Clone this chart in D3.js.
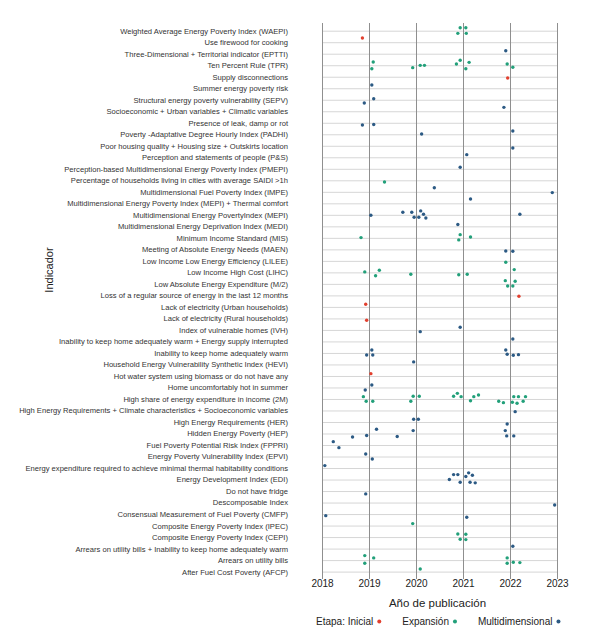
<!DOCTYPE html>
<html>
<head>
<meta charset="utf-8">
<script src="https://cdn.jsdelivr.net/npm/d3@7"></script>
<style>
  html, body { margin: 0; padding: 0; background: #ffffff; }
  svg { display: block; font-family: "Liberation Sans", Arial, sans-serif; }
</style>
</head>
<body>
<svg id="chart" width="602" height="635"></svg>
<script>
// ---------------- DATA ----------------
const categories = [
  "Weighted Average Energy Poverty Index (WAEPI)",
  "Use firewood for cooking",
  "Three-Dimensional + Territorial indicator (EPTTI)",
  "Ten Percent Rule (TPR)",
  "Supply disconnections",
  "Summer energy poverty risk",
  "Structural energy poverty vulnerability (SEPV)",
  "Socioeconomic + Urban variables + Climatic variables",
  "Presence of leak, damp or rot",
  "Poverty -Adaptative Degree Hourly Index (PADHI)",
  "Poor housing quality + Housing size + Outskirts location",
  "Perception and statements of people (P&S)",
  "Perception-based Multidimensional Energy Poverty Index (PMEPI)",
  "Percentage of households living in cities with average SAIDI >1h",
  "Multidimensional Fuel Poverty Index (IMPE)",
  "Multidimensional Energy Poverty Index (MEPI) + Thermal comfort",
  "Multidimensional Energy PovertyIndex (MEPI)",
  "Multidimensional Energy Deprivation Index (MEDI)",
  "Minimum Income Standard (MIS)",
  "Meeting of Absolute Energy Needs (MAEN)",
  "Low Income Low Energy Efficiency (LILEE)",
  "Low Income High Cost (LIHC)",
  "Low Absolute Energy Expenditure (M/2)",
  "Loss of a regular source of energy in the last 12 months",
  "Lack of electricity (Urban households)",
  "Lack of electricity (Rural households)",
  "Index of vulnerable homes (IVH)",
  "Inability to keep home adequately warm + Energy supply interrupted",
  "Inability to keep home adequately warm",
  "Household Energy Vulnerability Synthetic Index (HEVI)",
  "Hot water system using biomass or do not have any",
  "Home uncomfortably hot in summer",
  "High share of energy expenditure in income (2M)",
  "High Energy Requirements + Climate characteristics + Socioeconomic variables",
  "High Energy Requirements (HER)",
  "Hidden Energy Poverty (HEP)",
  "Fuel Poverty Potential Risk Index (FPPRI)",
  "Energy Poverty Vulnerability Index (EPVI)",
  "Energy expenditure required to achieve minimal thermal habitability conditions",
  "Energy Development Index (EDI)",
  "Do not have fridge",
  "Descomposable Index",
  "Consensual Measurement of Fuel Poverty (CMFP)",
  "Composite Energy Poverty Index (IPEC)",
  "Composite Energy Poverty Index (CEPI)",
  "Arrears on utility bills + Inability to keep home adequately warm",
  "Arrears on utility bills",
  "After Fuel Cost Poverty (AFCP)"
];

const stages = ["Inicial", "Expansión", "Multidimensional"];
const legendTitle = "Etapa:";
const yearTicks = [2018, 2019, 2020, 2021, 2022, 2023];

// Each observation: [category index, stage, publication year (jittered), vertical jitter in rows]
const observations = [
  [0, "Expansión", 2020.94, -0.26], [0, "Expansión", 2021.06, -0.26], [0, "Expansión", 2020.89, 0.23], [0, "Expansión", 2021.07, 0.23],
  [1, "Inicial", 2018.86, -0.37],
  [2, "Multidimensional", 2021.91, -0.26],
  [3, "Expansión", 2019.09, -0.28], [3, "Expansión", 2019.06, 0.30], [3, "Expansión", 2019.93, 0.21], [3, "Expansión", 2020.09, 0.01],
  [3, "Expansión", 2020.18, 0.01], [3, "Expansión", 2020.86, -0.11], [3, "Expansión", 2020.94, -0.43], [3, "Expansión", 2021.13, -0.25],
  [3, "Expansión", 2021.06, 0.30], [3, "Expansión", 2021.94, -0.11], [3, "Expansión", 2022.06, 0.18],
  [4, "Inicial", 2021.95, 0.11],
  [5, "Multidimensional", 2019.06, -0.28],
  [6, "Multidimensional", 2019.10, -0.09], [6, "Multidimensional", 2018.90, 0.28],
  [7, "Multidimensional", 2021.87, -0.34],
  [8, "Multidimensional", 2018.86, 0.19], [8, "Multidimensional", 2019.10, 0.15],
  [9, "Multidimensional", 2020.12, -0.03], [9, "Multidimensional", 2022.06, -0.28],
  [10, "Multidimensional", 2022.06, 0.19],
  [11, "Multidimensional", 2021.08, -0.23],
  [12, "Multidimensional", 2020.94, -0.13],
  [13, "Expansión", 2019.33, 0.15],
  [14, "Multidimensional", 2020.39, -0.36], [14, "Multidimensional", 2022.90, 0.07],
  [15, "Multidimensional", 2021.16, -0.38],
  [16, "Multidimensional", 2019.04, 0.04], [16, "Multidimensional", 2019.72, -0.22], [16, "Multidimensional", 2019.91, -0.22],
  [16, "Multidimensional", 2020.10, -0.34], [16, "Multidimensional", 2020.16, -0.05], [16, "Multidimensional", 2019.96, 0.21],
  [16, "Multidimensional", 2020.06, 0.21], [16, "Multidimensional", 2020.21, 0.27], [16, "Multidimensional", 2022.21, -0.05],
  [17, "Multidimensional", 2020.89, -0.16],
  [18, "Expansión", 2018.83, -0.02], [18, "Expansión", 2020.94, -0.28], [18, "Expansión", 2020.91, 0.18], [18, "Expansión", 2021.16, -0.08],
  [19, "Multidimensional", 2021.91, 0.14], [19, "Multidimensional", 2022.06, 0.17],
  [20, "Expansión", 2021.91, 0.12],
  [21, "Expansión", 2018.91, -0.04], [21, "Expansión", 2019.22, -0.18], [21, "Expansión", 2019.14, 0.29], [21, "Expansión", 2019.89, 0.16],
  [21, "Expansión", 2020.91, 0.20], [21, "Expansión", 2021.09, 0.16], [21, "Expansión", 2022.09, -0.24],
  [22, "Expansión", 2021.90, -0.28], [22, "Expansión", 2022.11, -0.23], [22, "Expansión", 2021.95, 0.18], [22, "Expansión", 2022.06, 0.18],
  [23, "Inicial", 2022.19, 0.08],
  [24, "Inicial", 2018.93, -0.23],
  [25, "Inicial", 2018.95, 0.16],
  [26, "Multidimensional", 2020.94, -0.23], [26, "Multidimensional", 2020.09, 0.15],
  [27, "Multidimensional", 2022.06, -0.21],
  [28, "Multidimensional", 2019.06, -0.26], [28, "Multidimensional", 2018.95, 0.18], [28, "Multidimensional", 2019.08, 0.18],
  [28, "Multidimensional", 2021.91, -0.26], [28, "Multidimensional", 2021.94, 0.11], [28, "Multidimensional", 2022.07, 0.20],
  [28, "Multidimensional", 2022.18, 0.15],
  [29, "Multidimensional", 2019.95, -0.22],
  [30, "Inicial", 2019.04, -0.20],
  [31, "Multidimensional", 2019.06, -0.22], [31, "Multidimensional", 2018.92, 0.22],
  [32, "Expansión", 2018.88, -0.20], [32, "Expansión", 2018.94, 0.20], [32, "Expansión", 2019.08, 0.20], [32, "Expansión", 2019.89, 0.20],
  [32, "Expansión", 2019.94, -0.24], [32, "Expansión", 2020.07, -0.24], [32, "Expansión", 2020.80, -0.24], [32, "Expansión", 2020.88, -0.49],
  [32, "Expansión", 2020.96, -0.20], [32, "Expansión", 2021.16, 0.15], [32, "Expansión", 2021.23, -0.20], [32, "Expansión", 2021.33, -0.35],
  [32, "Expansión", 2021.76, 0.20], [32, "Expansión", 2021.86, 0.32], [32, "Expansión", 2022.05, 0.28], [32, "Expansión", 2022.08, -0.20],
  [32, "Expansión", 2022.18, -0.20], [32, "Expansión", 2022.15, 0.37], [32, "Expansión", 2022.28, 0.20], [32, "Expansión", 2022.33, -0.20],
  [33, "Multidimensional", 2022.11, 0.10],
  [34, "Multidimensional", 2019.95, -0.24], [34, "Multidimensional", 2020.05, -0.24], [34, "Multidimensional", 2021.94, 0.17],
  [35, "Multidimensional", 2019.16, -0.37], [35, "Multidimensional", 2018.65, 0.30], [35, "Multidimensional", 2018.95, 0.17],
  [35, "Multidimensional", 2019.60, 0.26], [35, "Multidimensional", 2019.94, -0.25], [35, "Multidimensional", 2021.90, -0.25],
  [35, "Multidimensional", 2021.93, 0.21], [35, "Multidimensional", 2022.08, 0.21],
  [36, "Multidimensional", 2018.24, -0.29], [36, "Multidimensional", 2018.36, 0.23],
  [37, "Multidimensional", 2018.93, -0.22], [37, "Multidimensional", 2019.07, 0.21],
  [38, "Multidimensional", 2018.06, -0.21],
  [39, "Multidimensional", 2020.71, 0.00], [39, "Multidimensional", 2020.80, -0.43], [39, "Multidimensional", 2020.89, -0.43],
  [39, "Multidimensional", 2020.94, 0.23], [39, "Multidimensional", 2021.06, -0.26], [39, "Multidimensional", 2021.12, -0.58],
  [39, "Multidimensional", 2021.20, -0.37], [39, "Multidimensional", 2021.15, 0.23], [39, "Multidimensional", 2021.26, 0.29],
  [40, "Multidimensional", 2018.93, 0.25],
  [41, "Multidimensional", 2022.95, 0.21],
  [42, "Multidimensional", 2018.08, 0.14], [42, "Multidimensional", 2021.08, 0.28],
  [43, "Expansión", 2019.93, -0.17],
  [44, "Expansión", 2020.89, -0.27], [44, "Expansión", 2021.06, -0.25], [44, "Expansión", 2020.94, 0.19], [44, "Expansión", 2021.06, 0.22],
  [45, "Multidimensional", 2022.06, -0.20],
  [46, "Expansión", 2018.91, -0.39], [46, "Expansión", 2019.10, -0.19], [46, "Expansión", 2018.91, 0.27],
  [46, "Expansión", 2021.94, -0.19], [46, "Expansión", 2021.94, 0.27], [46, "Expansión", 2022.07, 0.19], [46, "Expansión", 2022.21, 0.22],
  [47, "Expansión", 2020.09, -0.23]
];

// ---------------- DRAWING ----------------
const svg = d3.select("#chart");
const font = '"Liberation Sans", Arial, sans-serif';

const panel = { left: 322, right: 557, top: 23, bottom: 576 };

const x = d3.scaleLinear().domain([2018, 2023]).range([panel.left, panel.right]);
const y = d3.scalePoint().domain(categories).range([30.7, 571.6]);
const color = d3.scaleOrdinal().domain(stages).range(["#e2402f", "#22a07a", "#2c5a84"]);

// horizontal gridlines
svg.append("g")
  .attr("transform", `translate(${panel.left},0)`)
  .call(d3.axisLeft(y).tickSize(-(panel.right - panel.left)).tickFormat(""))
  .call(g => g.select(".domain").remove())
  .call(g => g.selectAll("line").attr("stroke", "#d6d6d6").attr("stroke-width", 1));

// vertical gridlines
svg.append("g")
  .attr("transform", `translate(0,${panel.bottom})`)
  .call(d3.axisBottom(x).tickValues(yearTicks).tickSize(-(panel.bottom - panel.top)).tickFormat(""))
  .call(g => g.select(".domain").remove())
  .call(g => g.selectAll("line").attr("stroke", "#8f8f8f").attr("stroke-width", 1));

// x axis ticks + labels
svg.append("g")
  .attr("transform", `translate(0,${panel.bottom})`)
  .call(d3.axisBottom(x).tickValues(yearTicks).tickFormat(d3.format("d")).tickSize(3).tickPadding(1))
  .call(g => g.select(".domain").remove())
  .call(g => g.selectAll("line").attr("stroke", "#8f8f8f"))
  .call(g => g.selectAll("text").attr("font-family", font).attr("font-size", 10).attr("fill", "#222"));

// y axis labels
svg.append("g")
  .attr("transform", `translate(291,0)`)
  .call(d3.axisLeft(y).tickSize(0).tickPadding(3))
  .call(g => g.select(".domain").remove())
  .call(g => g.selectAll("text").attr("font-family", font).attr("font-size", 7.6).attr("fill", "#333"));

// points
svg.append("g")
  .selectAll("circle")
  .data(observations)
  .join("circle")
  .attr("cx", d => x(d[2]))
  .attr("cy", d => y(categories[d[0]]) + d[3] * y.step())
  .attr("r", 1.7)
  .attr("fill", d => color(d[1]));

// axis titles
svg.append("text")
  .attr("x", (panel.left + panel.right) / 2 - 2)
  .attr("y", 607)
  .attr("text-anchor", "middle")
  .attr("font-family", font)
  .attr("font-size", 11.5)
  .attr("fill", "#222")
  .text("Año de publicación");

svg.append("text")
  .attr("transform", "translate(53,270) rotate(-90)")
  .attr("text-anchor", "middle")
  .attr("font-family", font)
  .attr("font-size", 11)
  .attr("fill", "#222")
  .text("Indicador");

// legend
const legend = svg.append("g").attr("transform", "translate(0,625)");
let lx = 316;
stages.forEach((s, i) => {
  const t = legend.append("text")
    .attr("x", lx)
    .attr("y", 0)
    .attr("font-family", font)
    .attr("font-size", 10)
    .attr("fill", "#222")
    .text(i === 0 ? `${legendTitle} ${s}` : s);
  const w = t.node().getComputedTextLength();
  const cx = lx + w + 6;
  legend.append("circle")
    .attr("cx", cx)
    .attr("cy", -3.5)
    .attr("r", 2)
    .attr("fill", color(s));
  lx = cx + 23;
});
</script>
</body>
</html>
